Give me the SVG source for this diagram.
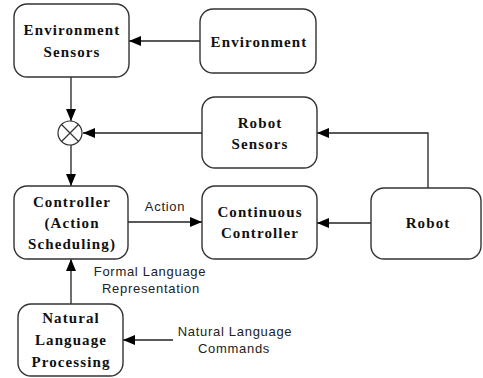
<svg xmlns="http://www.w3.org/2000/svg" width="483" height="378" viewBox="0 0 483 378">
<style>
.box{fill:#fff;stroke:#333;stroke-width:1.4}
.nt{font-family:"Liberation Serif","Times New Roman",serif;font-weight:bold;font-size:15px;letter-spacing:1.1px;fill:#111;text-anchor:middle}
.lb{font-family:"Liberation Sans",Arial,sans-serif;font-size:13px;letter-spacing:0.7px;fill:#222;text-anchor:middle}
.ln{fill:none;stroke:#222;stroke-width:1.3}
</style>
<defs>
<marker id="ah" viewBox="0 0 12 10" refX="12" refY="5" markerWidth="12" markerHeight="10" markerUnits="userSpaceOnUse" orient="auto">
<path d="M0,0 L12,5 L0,10 Z" fill="#000"/>
</marker>
</defs>
<g id="connectors">
<path class="ln" d="M200,41 L129,41" marker-end="url(#ah)"/>
<path class="ln" d="M71,77 L71,121" marker-end="url(#ah)"/>
<path class="ln" d="M202,133 L83,133" marker-end="url(#ah)"/>
<path class="ln" d="M428,188 L428,133 L317,133" marker-end="url(#ah)"/>
<path class="ln" d="M71,145 L71,186" marker-end="url(#ah)"/>
<path class="ln" d="M128,222 L202,222" marker-end="url(#ah)"/>
<path class="ln" d="M371,223 L317,223" marker-end="url(#ah)"/>
<path class="ln" d="M71,304 L71,259" marker-end="url(#ah)"/>
<path class="ln" d="M173,340 L123,340" marker-end="url(#ah)"/>
<text class="lb" x="165" y="211">Action</text>
<text class="lb" x="150" y="276">Formal Language</text>
<text class="lb" x="151" y="293">Representation</text>
<text class="lb" x="235" y="336">Natural Language</text>
<text class="lb" x="234" y="353">Commands</text>
</g>
<g id="env-sensors">
<rect class="box" x="14" y="4" width="115" height="73" rx="13"/>
<text class="nt" x="72" y="35">Environment</text>
<text class="nt" x="72" y="57">Sensors</text>
</g>
<g id="environment">
<rect class="box" x="200" y="9" width="116" height="64" rx="13"/>
<text class="nt" x="259" y="47">Environment</text>
</g>
<g id="sum">
<circle cx="70" cy="133" r="12" fill="#fff" stroke="#333" stroke-width="1.2"/>
<path d="M61.5,124.5 L78.5,141.5 M78.5,124.5 L61.5,141.5" stroke="#333" stroke-width="1.2"/>
</g>
<g id="robot-sensors">
<rect class="box" x="202" y="97" width="115" height="71" rx="13"/>
<text class="nt" x="260" y="128">Robot</text>
<text class="nt" x="260" y="149">Sensors</text>
</g>
<g id="controller">
<rect class="box" x="14" y="186" width="114" height="73" rx="13"/>
<text class="nt" x="72" y="207">Controller</text>
<text class="nt" x="72" y="228">(Action</text>
<text class="nt" x="72" y="249">Scheduling)</text>
</g>
<g id="continuous-controller">
<rect class="box" x="202" y="186" width="115" height="73" rx="13"/>
<text class="nt" x="260" y="217">Continuous</text>
<text class="nt" x="260" y="238">Controller</text>
</g>
<g id="robot">
<rect class="box" x="371" y="188" width="110" height="71" rx="13"/>
<text class="nt" x="428" y="228">Robot</text>
</g>
<g id="nlp">
<rect class="box" x="18" y="304" width="105" height="72" rx="13"/>
<text class="nt" x="71" y="323">Natural</text>
<text class="nt" x="71" y="345">Language</text>
<text class="nt" x="71" y="367">Processing</text>
</g>
</svg>
